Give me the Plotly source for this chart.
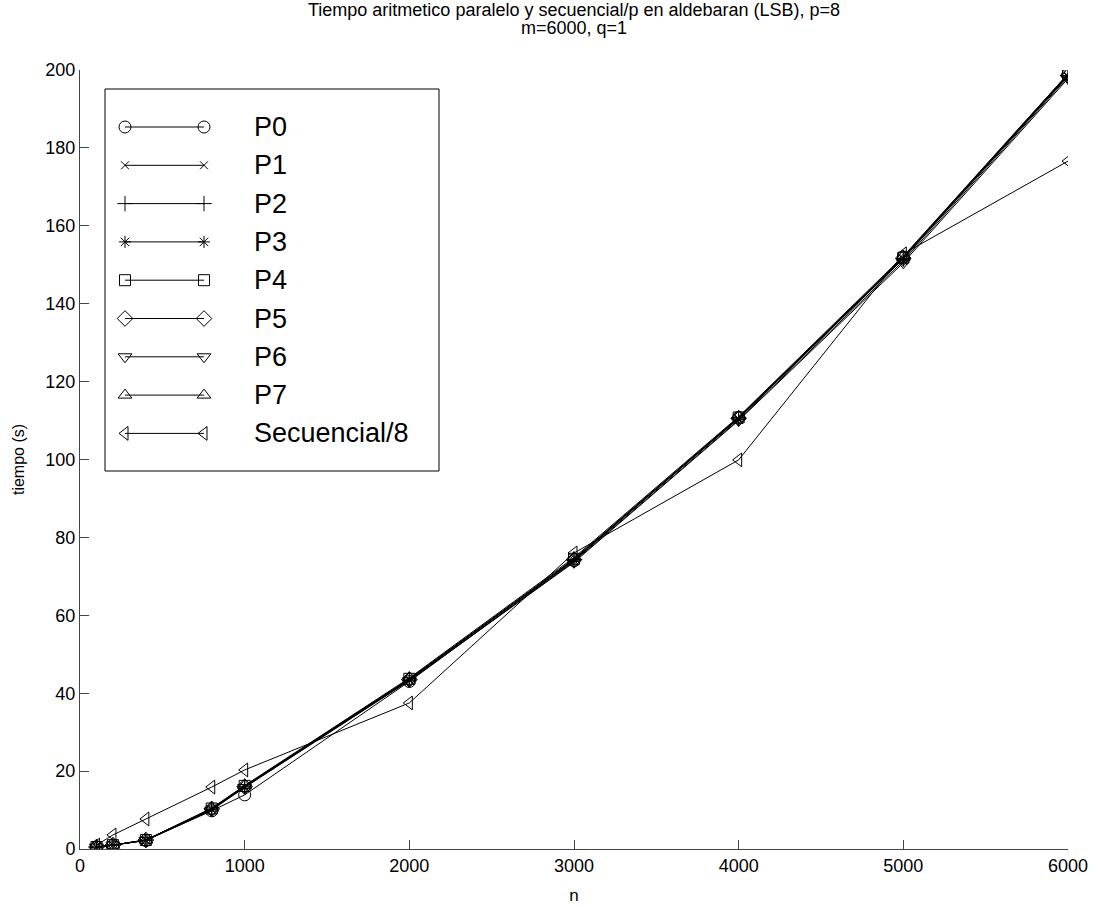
import plotly.graph_objects as go

# Problem sizes n
n = [100, 200, 400, 800, 1000, 2000, 3000, 4000, 5000, 6000]

# Arithmetic time (s) per process
P0 = [0.5, 1.0, 2.2, 9.8, 13.9, 43.0, 74.0, 110.8, 152.0, 199.0]
P1 = [0.5, 1.0, 2.3, 10.2, 16.0, 43.5, 74.2, 110.5, 151.5, 198.5]
P2 = [0.5, 1.0, 2.3, 10.3, 16.1, 43.6, 74.3, 110.6, 151.6, 198.6]
P3 = [0.5, 1.0, 2.2, 10.1, 15.9, 43.3, 73.8, 110.2, 151.0, 198.2]
P4 = [0.5, 1.0, 2.3, 10.4, 16.2, 43.7, 74.5, 110.8, 151.8, 198.8]
P5 = [0.5, 1.0, 2.3, 10.3, 16.0, 43.5, 74.3, 110.6, 151.7, 198.6]
P6 = [0.5, 1.0, 2.2, 10.0, 15.8, 43.2, 73.6, 110.0, 150.5, 197.8]
P7 = [0.5, 1.0, 2.3, 10.5, 16.3, 43.9, 74.8, 111.0, 152.2, 199.0]
SEQ8 = [1.0, 3.6, 7.7, 15.9, 20.3, 37.5, 76.0, 99.9, 152.8, 176.6]

series_names = ["P0", "P1", "P2", "P3", "P4", "P5", "P6", "P7", "Secuencial/8"]
series_values = [P0, P1, P2, P3, P4, P5, P6, P7, SEQ8]
symbols = ["circle-open", "x-thin-open", "cross-thin-open", "asterisk-open",
           "square-open", "diamond-open", "triangle-down-open",
           "triangle-up-open", "triangle-left-open"]
marker_sizes = [12, 8, 11, 10, 11, 12, 12, 12, 12]

x_ticks = [0, 1000, 2000, 3000, 4000, 5000, 6000]
y_ticks = [0, 20, 40, 60, 80, 100, 120, 140, 160, 180, 200]

TITLE_LINES = ["Tiempo aritmetico paralelo y secuencial/p en aldebaran (LSB), p=8",
               "m=6000, q=1"]

FONT = "Liberation Sans, Arial, sans-serif"
AXIS_COLOR = "#444444"
PLOT_H = 849 - 70

fig = go.Figure()

for name, vals, sym, sz in zip(series_names, series_values, symbols, marker_sizes):
    fig.add_trace(go.Scatter(
        x=n, y=vals, name=name, mode="lines+markers",
        line=dict(color="black", width=1),
        marker=dict(symbol=sym, size=sz, color="black",
                    line=dict(color="black", width=1)),
        showlegend=False,
    ))

# Legend drawn on a pixel-scaled overlay axis: a line with a marker at each end
L_LEFT, L_RIGHT, L_TOP, L_BOTTOM = 105, 439, 89, 471
ROW0, ROW_STEP = 127, 38.3
MK_X0, MK_X1, TEXT_X = 125, 204, 252

for i, (name, sym, sz) in enumerate(zip(series_names, symbols, marker_sizes)):
    yy = ROW0 + i * ROW_STEP
    fig.add_trace(go.Scatter(
        x=[MK_X0, MK_X1], y=[yy, yy], mode="lines+markers",
        xaxis="x2", yaxis="y2", showlegend=False, hoverinfo="skip",
        line=dict(color="black", width=1),
        marker=dict(symbol=sym, size=sz, color="black",
                    line=dict(color="black", width=1)),
    ))
    fig.add_annotation(
        x=TEXT_X, y=yy, xref="x2", yref="y2", text=name, showarrow=False,
        xanchor="left", yanchor="middle",
        font=dict(family=FONT, size=27, color="black"),
    )

fig.add_shape(type="rect", xref="x2", yref="y2",
              x0=L_LEFT, x1=L_RIGHT, y0=L_TOP, y1=L_BOTTOM,
              line=dict(color="black", width=1), fillcolor="rgba(0,0,0,0)")

# Two-line title above the axes
for k, (line_text, y_px) in enumerate(zip(TITLE_LINES, [10, 28])):
    fig.add_annotation(
        x=0.5, y=1 + (70 - y_px) / PLOT_H, xref="paper", yref="paper",
        text=line_text, showarrow=False, xanchor="center", yanchor="middle",
        font=dict(family=FONT, size=18, color="black"),
    )

fig.update_layout(
    width=1102, height=907,
    margin=dict(l=80, r=34, t=70, b=58),
    paper_bgcolor="white", plot_bgcolor="white",
    font=dict(family=FONT, size=18, color="black"),
    xaxis=dict(
        range=[0, 6000], tickvals=x_ticks, ticktext=[str(v) for v in x_ticks],
        showline=True, linecolor=AXIS_COLOR, linewidth=1, mirror=False,
        ticks="inside", ticklen=9, tickcolor=AXIS_COLOR,
        showgrid=False, zeroline=False, automargin=False,
        title=dict(text="n", standoff=14, font=dict(size=17)),
        tickfont=dict(size=18),
    ),
    yaxis=dict(
        range=[0, 200], tickvals=y_ticks, ticktext=[str(v) for v in y_ticks],
        showline=True, linecolor=AXIS_COLOR, linewidth=1, mirror=False,
        ticks="inside", ticklen=9, tickcolor=AXIS_COLOR,
        showgrid=False, zeroline=False, automargin=False,
        title=dict(text="tiempo (s)", standoff=16, font=dict(size=16)),
        tickfont=dict(size=18),
    ),
    xaxis2=dict(range=[80, 1068], overlaying="x", visible=False,
                fixedrange=True),
    yaxis2=dict(range=[849, 70], overlaying="y", visible=False,
                fixedrange=True),
)

fig.write_html("out.html")
